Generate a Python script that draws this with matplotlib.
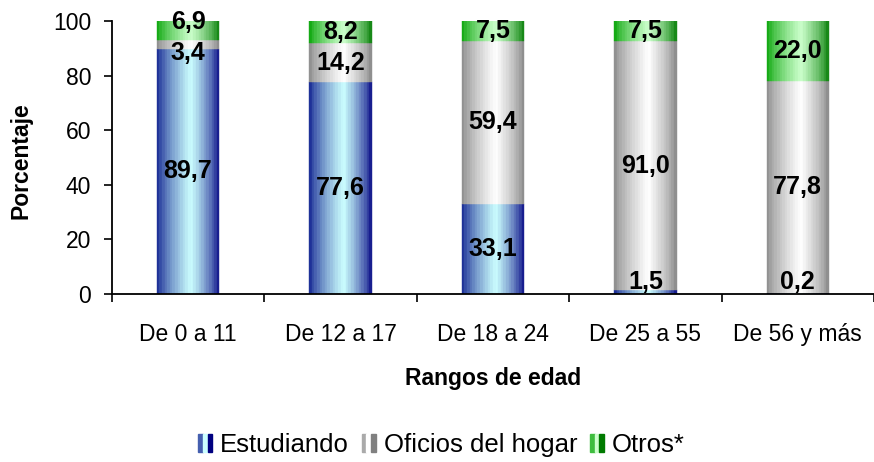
import matplotlib
matplotlib.use("Agg")
import matplotlib.pyplot as plt
import numpy as np
from matplotlib.patches import Patch
from matplotlib.legend_handler import HandlerTuple
from matplotlib.colors import to_rgb

plt.rcParams['font.family'] = ['Liberation Sans', 'DejaVu Sans']

categories = ['De 0 a 11', 'De 12 a 17', 'De 18 a 24', 'De 25 a 55', 'De 56 y más']
estudiando = [89.7, 77.6, 33.1, 1.5, 0.2]
oficios = [3.4, 14.2, 59.4, 91.0, 77.8]
otros = [6.9, 8.2, 7.5, 7.5, 22.0]
series_names = ['Estudiando', 'Oficios del hogar', 'Otros*']

# (left edge, centre, right edge) colours of the cylinder-like gradient
shades = [('#0a1a8c', '#ccffff', '#000080'),
          ('#858585', '#ffffff', '#808080'),
          ('#00a000', '#ccffcc', '#007a00')]

# small label shifts (points) where labels would collide: (series, category)
label_shift = {(1, 0): -6, (2, 0): 6}


def grad_color(shade, t):
    left, centre, right = shade
    c = 0.55
    if t < c:
        e, d = left, (c - t) / c
    else:
        e, d = right, (t - c) / (1 - c)
    w = (1 - d) ** 0.7
    e, m = np.array(to_rgb(e)), np.array(to_rgb(centre))
    return tuple(e + (m - e) * w)


fig = plt.figure(figsize=(8.74, 4.62), dpi=100)
ax = fig.add_axes([0.128, 0.364, 0.872, 0.5906])

x = np.arange(len(categories))
bw = 0.41
nstrip = 24
sw = bw / nstrip
values = [estudiando, oficios, otros]
bottom = np.zeros(len(categories))

for si, (vals, shade) in enumerate(zip(values, shades)):
    vals = np.array(vals)
    for k in range(nstrip):
        col = grad_color(shade, (k + 0.5) / nstrip)
        ax.bar(x - bw / 2 + k * sw, vals, width=sw, bottom=bottom, align='edge',
               color=col, edgecolor=col, linewidth=0.3)
    for ci, (xi, b, v) in enumerate(zip(x, bottom, vals)):
        ypos = max(b + v / 2, 4.4)
        ax.annotate(f'{v:.1f}'.replace('.', ','), (xi, ypos),
                    xytext=(0, label_shift.get((si, ci), 0)), textcoords='offset points',
                    ha='center', va='center', fontsize=18, fontweight='bold',
                    color='black', annotation_clip=False)
    bottom = bottom + vals

ax.set_xlim(-0.5, len(categories) - 0.5)
ax.set_ylim(0, 100)
ax.set_yticks(np.arange(0, 101, 20))
ax.set_xticks(x)
ax.set_xticklabels(categories)
ax.set_xticks(np.arange(-0.5, len(categories), 1), minor=True)
ax.tick_params(axis='x', which='major', length=0, pad=21, labelsize=16.5)
ax.tick_params(axis='x', which='minor', length=6, width=1.2, direction='out')
ax.tick_params(axis='y', length=6, width=1.2, pad=9, labelsize=16.5)
for s in ['top', 'right']:
    ax.spines[s].set_visible(False)
for s in ['left', 'bottom']:
    ax.spines[s].set_linewidth(1.3)

ax.set_xlabel('Rangos de edad', fontsize=16.5, fontweight='bold')
ax.xaxis.set_label_coords(0.5, -0.267)
ax.set_ylabel('Porcentaje', fontsize=16.5, fontweight='bold')
ax.yaxis.set_label_coords(-0.104, 0.49)

handles = []
for shade in shades:
    handles.append((Patch(color=grad_color(shade, 0.1)),
                    Patch(color=shade[1]),
                    Patch(color=shade[2])))
fig.legend(handles, series_names, handler_map={tuple: HandlerTuple(ndivide=None, pad=0)},
           loc='center', bbox_to_anchor=(0.505, 0.037), ncol=3, frameon=False,
           fontsize=18.5, handlelength=0.55, handleheight=0.75, handletextpad=0.3,
           columnspacing=0.5, borderpad=0.1)

fig.savefig('out.png', dpi=100)
